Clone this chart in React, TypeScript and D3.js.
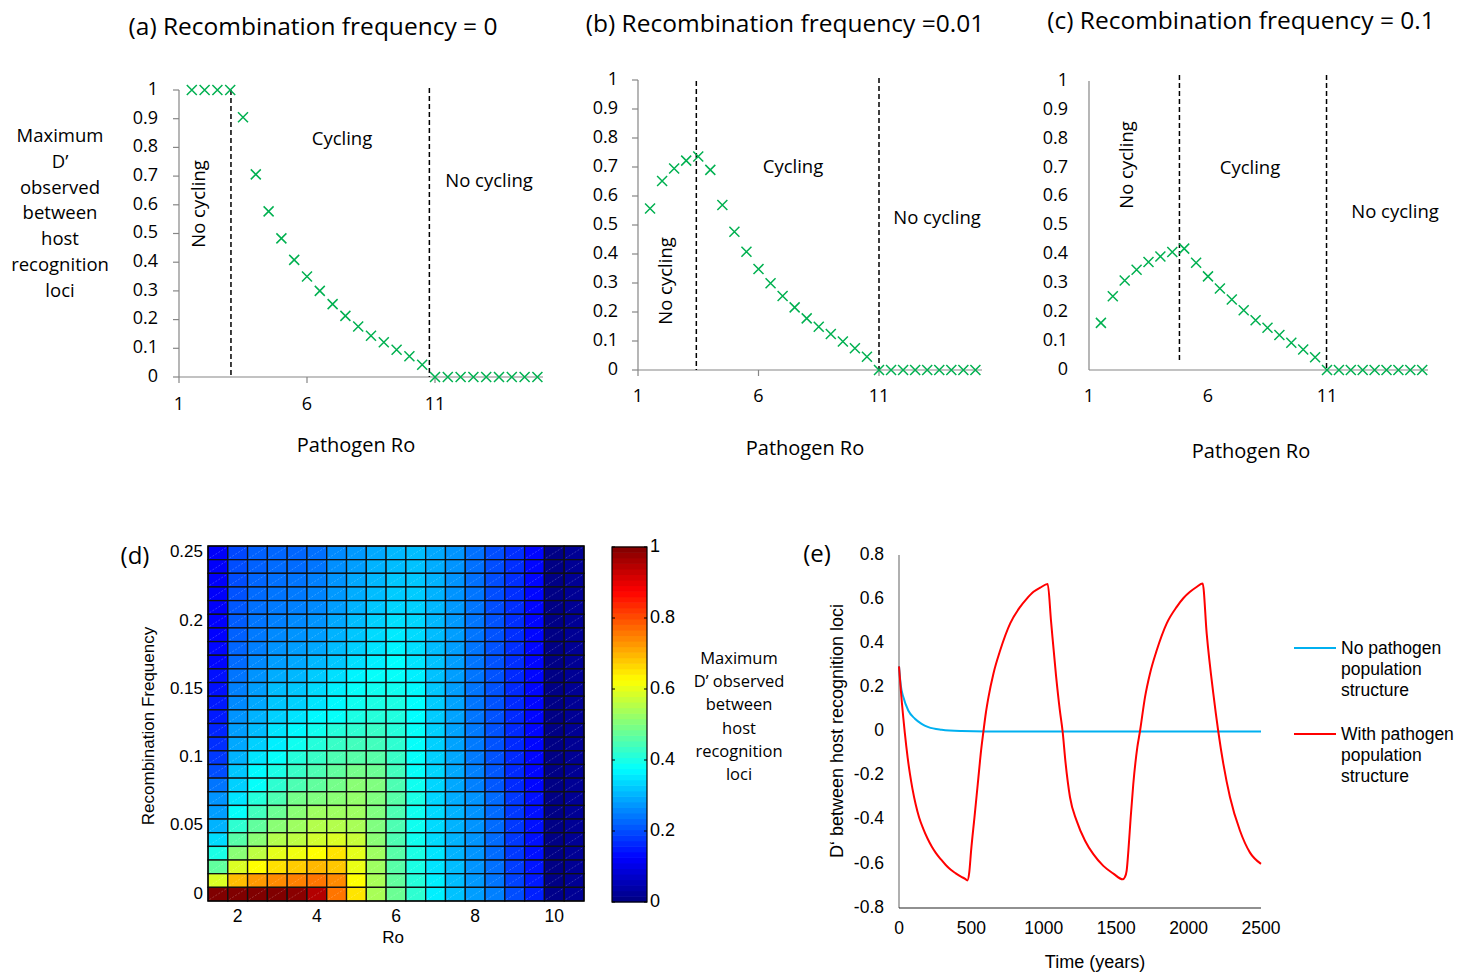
import * as d3 from "d3";

// ---- panels (a)-(c): maximum D' vs pathogen Ro ----
const R0_VALUES = [1.5, 2, 2.5, 3, 3.5, 4, 4.5, 5, 5.5, 6, 6.5, 7, 7.5, 8, 8.5, 9, 9.5, 10, 10.5, 11, 11.5, 12, 12.5, 13, 13.5, 14, 14.5, 15];
const MAX_D_RF_0 = [1, 1, 1, 1, 0.905, 0.706, 0.577, 0.483, 0.408, 0.35, 0.3, 0.254, 0.213, 0.176, 0.144, 0.121, 0.095, 0.072, 0.043, 0, 0, 0, 0, 0, 0, 0, 0, 0];
const MAX_D_RF_001 = [0.557, 0.652, 0.695, 0.722, 0.736, 0.69, 0.569, 0.477, 0.408, 0.348, 0.299, 0.255, 0.216, 0.178, 0.149, 0.124, 0.098, 0.075, 0.046, 0, 0, 0, 0, 0, 0, 0, 0, 0];
const MAX_D_RF_01 = [0.163, 0.255, 0.31, 0.347, 0.374, 0.393, 0.408, 0.42, 0.371, 0.324, 0.282, 0.244, 0.207, 0.172, 0.146, 0.121, 0.094, 0.071, 0.044, 0, 0, 0, 0, 0, 0, 0, 0, 0];
const R0_TICKS = [1, 6, 11];
const MAX_D_TICKS = [0, 0.1, 0.2, 0.3, 0.4, 0.5, 0.6, 0.7, 0.8, 0.9, 1];
const THRESHOLDS_A = [3.03, 10.78];
const THRESHOLDS_B = [3.42, 11];
const THRESHOLDS_C = [4.8, 10.98];

// ---- panel (d): heatmap, rows listed from Rf = 0.25 (top) down to 0 ----
const HEAT_R0 = [1.5, 2, 2.5, 3, 3.5, 4, 4.5, 5, 5.5, 6, 6.5, 7, 7.5, 8, 8.5, 9, 9.5, 10, 10.5];
const HEAT_RF = [0.25, 0.24, 0.23, 0.22, 0.21, 0.2, 0.19, 0.18, 0.17, 0.16, 0.15, 0.14, 0.13, 0.12, 0.11, 0.1, 0.09, 0.08, 0.07, 0.06, 0.05, 0.04, 0.03, 0.02, 0.01, 0];
const HEAT_D = [
  [0.12, 0.195, 0.22, 0.225, 0.225, 0.235, 0.26, 0.275, 0.29, 0.305, 0.31, 0.29, 0.27, 0.235, 0.2, 0.17, 0.13, 0.005, 0.02],
  [0.12, 0.2, 0.22, 0.23, 0.23, 0.24, 0.265, 0.28, 0.3, 0.31, 0.315, 0.295, 0.27, 0.235, 0.2, 0.17, 0.13, 0.005, 0.02],
  [0.12, 0.2, 0.225, 0.235, 0.24, 0.25, 0.27, 0.29, 0.305, 0.32, 0.32, 0.3, 0.27, 0.235, 0.2, 0.17, 0.13, 0.005, 0.02],
  [0.12, 0.205, 0.23, 0.24, 0.245, 0.255, 0.275, 0.295, 0.31, 0.325, 0.325, 0.3, 0.27, 0.24, 0.2, 0.17, 0.13, 0.005, 0.02],
  [0.12, 0.21, 0.235, 0.245, 0.25, 0.26, 0.28, 0.3, 0.32, 0.335, 0.33, 0.305, 0.275, 0.24, 0.2, 0.17, 0.13, 0.005, 0.02],
  [0.125, 0.215, 0.24, 0.25, 0.26, 0.27, 0.29, 0.31, 0.33, 0.345, 0.335, 0.305, 0.275, 0.24, 0.205, 0.17, 0.13, 0.005, 0.02],
  [0.125, 0.22, 0.245, 0.26, 0.27, 0.28, 0.3, 0.32, 0.34, 0.355, 0.34, 0.31, 0.28, 0.24, 0.205, 0.17, 0.13, 0.005, 0.02],
  [0.13, 0.225, 0.25, 0.27, 0.28, 0.29, 0.31, 0.33, 0.35, 0.365, 0.345, 0.31, 0.28, 0.24, 0.205, 0.17, 0.13, 0.005, 0.02],
  [0.13, 0.23, 0.26, 0.28, 0.29, 0.305, 0.32, 0.345, 0.36, 0.375, 0.35, 0.315, 0.28, 0.24, 0.205, 0.17, 0.13, 0.005, 0.02],
  [0.14, 0.24, 0.27, 0.295, 0.305, 0.325, 0.345, 0.365, 0.38, 0.38, 0.36, 0.315, 0.28, 0.24, 0.205, 0.165, 0.13, 0.005, 0.02],
  [0.14, 0.25, 0.28, 0.31, 0.32, 0.34, 0.36, 0.38, 0.39, 0.39, 0.37, 0.32, 0.28, 0.24, 0.205, 0.165, 0.13, 0.005, 0.02],
  [0.15, 0.26, 0.29, 0.32, 0.33, 0.35, 0.37, 0.39, 0.4, 0.4, 0.375, 0.325, 0.285, 0.24, 0.205, 0.165, 0.13, 0.005, 0.02],
  [0.15, 0.27, 0.3, 0.33, 0.35, 0.37, 0.38, 0.4, 0.41, 0.405, 0.375, 0.325, 0.285, 0.24, 0.205, 0.165, 0.13, 0.005, 0.02],
  [0.16, 0.28, 0.31, 0.35, 0.37, 0.39, 0.41, 0.42, 0.43, 0.41, 0.38, 0.33, 0.285, 0.245, 0.205, 0.165, 0.13, 0.005, 0.02],
  [0.17, 0.29, 0.33, 0.36, 0.39, 0.41, 0.43, 0.44, 0.44, 0.42, 0.38, 0.33, 0.285, 0.245, 0.205, 0.165, 0.13, 0.005, 0.02],
  [0.18, 0.3, 0.35, 0.38, 0.41, 0.43, 0.45, 0.46, 0.46, 0.43, 0.38, 0.33, 0.29, 0.245, 0.205, 0.165, 0.13, 0.005, 0.02],
  [0.2, 0.32, 0.37, 0.4, 0.43, 0.45, 0.47, 0.49, 0.48, 0.44, 0.38, 0.335, 0.29, 0.25, 0.21, 0.165, 0.13, 0.005, 0.02],
  [0.24, 0.33, 0.38, 0.42, 0.45, 0.47, 0.49, 0.51, 0.5, 0.45, 0.39, 0.335, 0.29, 0.25, 0.21, 0.165, 0.13, 0.005, 0.02],
  [0.27, 0.35, 0.41, 0.45, 0.49, 0.5, 0.51, 0.52, 0.5, 0.46, 0.4, 0.335, 0.295, 0.27, 0.23, 0.18, 0.14, 0.005, 0.02],
  [0.28, 0.38, 0.44, 0.48, 0.51, 0.53, 0.53, 0.53, 0.5, 0.45, 0.39, 0.34, 0.3, 0.27, 0.23, 0.18, 0.14, 0.005, 0.02],
  [0.3, 0.42, 0.47, 0.51, 0.53, 0.55, 0.55, 0.54, 0.5, 0.45, 0.39, 0.34, 0.3, 0.27, 0.23, 0.18, 0.14, 0.005, 0.02],
  [0.34, 0.46, 0.51, 0.55, 0.56, 0.58, 0.59, 0.57, 0.51, 0.45, 0.39, 0.34, 0.3, 0.27, 0.23, 0.18, 0.14, 0.005, 0.02],
  [0.4, 0.51, 0.56, 0.6, 0.61, 0.625, 0.65, 0.6, 0.53, 0.46, 0.4, 0.35, 0.3, 0.27, 0.23, 0.18, 0.14, 0.005, 0.02],
  [0.47, 0.59, 0.625, 0.655, 0.675, 0.695, 0.68, 0.605, 0.53, 0.46, 0.4, 0.35, 0.31, 0.27, 0.235, 0.185, 0.145, 0.005, 0.02],
  [0.59, 0.69, 0.725, 0.74, 0.75, 0.76, 0.74, 0.625, 0.54, 0.47, 0.41, 0.36, 0.31, 0.275, 0.24, 0.19, 0.15, 0.005, 0.02],
  [1, 1, 1, 1, 0.99, 0.95, 0.76, 0.65, 0.54, 0.48, 0.42, 0.36, 0.315, 0.28, 0.25, 0.2, 0.155, 0.01, 0.02],
];
const HEAT_X_TICKS = [2, 4, 6, 8, 10];
const HEAT_Y_TICKS = [0, 0.05, 0.1, 0.15, 0.2, 0.25];
const CBAR_TICKS = [0, 0.2, 0.4, 0.6, 0.8, 1];

// ---- panel (e): D' through time ----
const TIME_NO_STRUCT = [0, 12, 30, 64, 110, 156, 203, 295, 433, 600, 2500];
const D_NO_STRUCT = [0.295, 0.21, 0.156, 0.095, 0.058, 0.035, 0.02, 0.008, 0.002, 0, 0];
const TIME_STRUCT = [0, 10, 20, 30, 40, 50, 60, 75, 93, 115, 139, 167, 197, 225, 254, 290, 323, 358, 392, 425, 457, 472,
  485, 498, 521, 544, 567, 583, 600, 618, 652, 699, 768, 837, 880, 929, 975, 1027,
  1050, 1085, 1110, 1130, 1150, 1181, 1227, 1285, 1342, 1411, 1480, 1545,
  1560, 1572, 1584, 1600, 1618, 1646, 1664, 1699, 1733, 1780, 1849, 1918, 1965, 2010, 2055, 2097,
  2125, 2171, 2205, 2240, 2286, 2355, 2424, 2500];
const D_STRUCT = [0.295, 0.21, 0.13, 0.06, -0.005, -0.065, -0.12, -0.19, -0.26, -0.33, -0.39, -0.44, -0.485, -0.52, -0.55, -0.58, -0.605, -0.627, -0.643, -0.657, -0.668, -0.675,
  -0.64, -0.54, -0.39, -0.238, -0.086, 0, 0.085, 0.156, 0.262, 0.368, 0.49, 0.565, 0.6, 0.633, 0.652, 0.668,
  0.5, 0.25, 0.1, 0, -0.14, -0.298, -0.405, -0.495, -0.556, -0.609, -0.644, -0.67,
  -0.66, -0.632, -0.541, -0.39, -0.238, -0.071, 0, 0.156, 0.262, 0.368, 0.49, 0.565, 0.605, 0.633, 0.655, 0.671,
  0.444, 0.17, 0, -0.147, -0.298, -0.45, -0.549, -0.6];
const TIME_TICKS = [0, 500, 1000, 1500, 2000, 2500];
const D_TICKS_E = [-0.8, -0.6, -0.4, -0.2, 0, 0.2, 0.4, 0.6, 0.8];

const CAL = "'Open Sans', sans-serif";
const ARIAL = "'Liberation Sans', Arial, sans-serif";
const GREEN = "#00B050";
const AXIS_GREY = "#868686";

function jet(v: number) {
  const c = (x: number) => Math.max(0, Math.min(1, x));
  const r = c(Math.min(4 * v - 1.5, -4 * v + 4.5));
  const g = c(Math.min(4 * v - 0.5, -4 * v + 3.5));
  const b = c(Math.min(4 * v + 0.5, -4 * v + 2.5));
  return d3.rgb(r * 255, g * 255, b * 255).toString();
}

type PanelProps = {
  values: number[];
  thresholds: number[];
  x1: number; x11: number; xEnd: number;
  yTop: number; yBottom: number;
  dashTops: number[]; dashBottoms: number[];
  ticks: boolean;
  labelRight: number; xLabelY: number;
  title: string; titleX: number; titleY: number;
  xTitleX: number; xTitleY: number;
  cycling: [number, number]; noCycling: [number, number]; noCyclingV: [number, number];
};

function ScatterPanel(p: PanelProps) {
  const x = d3.scaleLinear().domain([1, 11]).range([p.x1, p.x11]);
  const y = d3.scaleLinear().domain([0, 1]).range([p.yBottom, p.yTop]);
  const s = 5;
  return (
    <g>
      <text x={p.titleX} y={p.titleY} textAnchor="middle" dominantBaseline="middle" fontFamily={CAL} fontSize={24.5}>{p.title}</text>
      <line x1={p.x1} x2={p.x1} y1={p.yTop} y2={p.yBottom} stroke={AXIS_GREY} strokeWidth={1.2} />
      <line x1={p.x1} x2={p.xEnd} y1={p.yBottom} y2={p.yBottom} stroke={AXIS_GREY} strokeWidth={1.2} />
      {MAX_D_TICKS.map(t => (
        <g key={t}>
          {p.ticks && <line x1={p.x1 - 6} x2={p.x1} y1={y(t)} y2={y(t)} stroke={AXIS_GREY} strokeWidth={1.2} />}
          <text x={p.labelRight} y={y(t)} textAnchor="end" dominantBaseline="middle" fontFamily={CAL} fontSize={18}>{t}</text>
        </g>
      ))}
      {R0_TICKS.map(t => (
        <g key={t}>
          {p.ticks && <line x1={x(t)} x2={x(t)} y1={p.yBottom} y2={p.yBottom + 6} stroke={AXIS_GREY} strokeWidth={1.2} />}
          <text x={x(t)} y={p.xLabelY} textAnchor="middle" dominantBaseline="middle" fontFamily={CAL} fontSize={18}>{t}</text>
        </g>
      ))}
      {p.thresholds.map((t, i) => (
        <line key={i} x1={x(t)} x2={x(t)} y1={p.dashTops[i]} y2={p.dashBottoms[i]} stroke="#000" strokeWidth={1.5} strokeDasharray="5,3" />
      ))}
      <g stroke={GREEN} strokeWidth={1.5}>
        {R0_VALUES.map((r, i) => (
          <path key={i} d={`M${x(r) - s},${y(p.values[i]) - s}L${x(r) + s},${y(p.values[i]) + s}M${x(r) - s},${y(p.values[i]) + s}L${x(r) + s},${y(p.values[i]) - s}`} />
        ))}
      </g>
      <text x={p.cycling[0]} y={p.cycling[1]} textAnchor="middle" dominantBaseline="middle" fontFamily={CAL} fontSize={18.5}>Cycling</text>
      <text x={p.noCycling[0]} y={p.noCycling[1]} textAnchor="middle" dominantBaseline="middle" fontFamily={CAL} fontSize={18.5}>No cycling</text>
      <text transform={`translate(${p.noCyclingV[0]},${p.noCyclingV[1]}) rotate(-90)`} textAnchor="middle" dominantBaseline="middle" fontFamily={CAL} fontSize={18.5}>No cycling</text>
      <text x={p.xTitleX} y={p.xTitleY} textAnchor="middle" dominantBaseline="middle" fontFamily={CAL} fontSize={20}>Pathogen Ro</text>
    </g>
  );
}

function Heatmap() {
  const x = d3.scaleLinear().domain([1.25, 10.75]).range([208, 584]);
  const y = d3.scaleLinear().domain([-0.005, 0.255]).range([901, 546]);
  const w = x(1.75) - x(1.25);
  const h = y(0) - y(0.01);
  const cb = d3.scaleLinear().domain([0, 1]).range([902, 547]);
  const steps = d3.range(64);
  return (
    <g>
      <text x={135} y={558} textAnchor="middle" dominantBaseline="middle" fontFamily={CAL} fontSize={24}>(d)</text>
      {HEAT_RF.map((rf, ri) => HEAT_R0.map((r0, ci) => {
        const cx = x(r0 - 0.25), cy = y(rf + 0.005);
        return (
          <g key={`${ri}-${ci}`}>
            <rect x={cx} y={cy} width={w} height={h} fill={jet(HEAT_D[ri][ci])} stroke="#111" strokeWidth={1.3} />
            <line x1={cx + 1.5} y1={cy + h - 1.5} x2={cx + w - 1.5} y2={cy + 1.5} stroke="#fff" strokeOpacity={0.35} strokeWidth={0.6} strokeDasharray="2,1.5" />
          </g>
        );
      }))}
      <rect x={208} y={546} width={376} height={355} fill="none" stroke="#000" strokeWidth={1.2} />
      {HEAT_X_TICKS.map(t => (
        <text key={t} x={x(t)} y={917} textAnchor="middle" dominantBaseline="middle" fontFamily={ARIAL} fontSize={17.5}>{t}</text>
      ))}
      {HEAT_Y_TICKS.map(t => (
        <text key={t} x={203} y={y(t)} textAnchor="end" dominantBaseline="middle" fontFamily={ARIAL} fontSize={17}>{t}</text>
      ))}
      <text x={393} y={939} textAnchor="middle" dominantBaseline="middle" fontFamily={ARIAL} fontSize={17}>Ro</text>
      <text transform="translate(150,726) rotate(-90)" textAnchor="middle" dominantBaseline="middle" fontFamily={ARIAL} fontSize={17}>Recombination Frequency</text>
      {steps.map(i => (
        <rect key={i} x={612} y={cb((i + 1) / 64) - 0.3} width={35} height={cb(0) - cb(1 / 64) + 0.6} fill={jet((i + 0.5) / 64)} />
      ))}
      <rect x={612} y={547} width={35} height={355} fill="none" stroke="#000" strokeWidth={1.2} />
      {CBAR_TICKS.map(t => (
        <g key={t}>
          <line x1={612} x2={615} y1={cb(t)} y2={cb(t)} stroke="#000" />
          <line x1={644} x2={647} y1={cb(t)} y2={cb(t)} stroke="#000" />
          <text x={650} y={cb(t)} dominantBaseline="middle" fontFamily={ARIAL} fontSize={18}>{t}</text>
        </g>
      ))}
      <text textAnchor="middle" fontFamily={CAL} fontSize={16.5}>
        {["Maximum", "D\u2019 observed", "between", "host", "recognition", "loci"].map((s, i) => (
          <tspan key={i} x={739} y={664 + i * 23.2}>{s}</tspan>
        ))}
      </text>
    </g>
  );
}

function TimePanel() {
  const x = d3.scaleLinear().domain([0, 2500]).range([899, 1261]);
  const y = d3.scaleLinear().domain([-0.8, 0.8]).range([908, 555]);
  const mk = (ts: number[], ds: number[]) =>
    d3.line<number>().x(t => x(t)).y((_, i) => y(ds[i])).curve(d3.curveMonotoneX)(ts) || "";
  return (
    <g>
      <text x={817} y={556} textAnchor="middle" dominantBaseline="middle" fontFamily={CAL} fontSize={24}>(e)</text>
      <line x1={899} x2={899} y1={555} y2={908} stroke={AXIS_GREY} strokeWidth={1.3} />
      <line x1={899} x2={1261} y1={908} y2={908} stroke="#222" strokeWidth={1.2} />
      {D_TICKS_E.map(t => (
        <text key={t} x={884} y={y(t)} textAnchor="end" dominantBaseline="middle" fontFamily={ARIAL} fontSize={17.5}>{String(t)}</text>
      ))}
      {TIME_TICKS.map(t => (
        <text key={t} x={x(t)} y={929} textAnchor="middle" dominantBaseline="middle" fontFamily={ARIAL} fontSize={17.5}>{t}</text>
      ))}
      <text x={1095} y={963} textAnchor="middle" dominantBaseline="middle" fontFamily={ARIAL} fontSize={18}>Time (years)</text>
      <text transform="translate(838,731) rotate(-90)" textAnchor="middle" dominantBaseline="middle" fontFamily={ARIAL} fontSize={18}>D‘ between host recognition loci</text>
      <path d={mk(TIME_NO_STRUCT, D_NO_STRUCT)} fill="none" stroke="#00B0F0" strokeWidth={2} />
      <path d={mk(TIME_STRUCT, D_STRUCT)} fill="none" stroke="#FF0000" strokeWidth={2} />
      <line x1={1294} x2={1336} y1={648} y2={648} stroke="#00B0F0" strokeWidth={2} />
      <line x1={1294} x2={1336} y1={734} y2={734} stroke="#FF0000" strokeWidth={2} />
      <text fontFamily={ARIAL} fontSize={17.5}>
        {["No pathogen", "population", "structure"].map((s, i) => (
          <tspan key={i} x={1341} y={654 + i * 21}>{s}</tspan>
        ))}
      </text>
      <text fontFamily={ARIAL} fontSize={17.5}>
        {["With pathogen", "population", "structure"].map((s, i) => (
          <tspan key={i} x={1341} y={740 + i * 21}>{s}</tspan>
        ))}
      </text>
    </g>
  );
}

export default function App() {
  return (
    <svg width={1475} height={972} style={{ position: "absolute", left: 0, top: 0, background: "#fff" }}>
      <rect width={1475} height={972} fill="#fff" />
      <text textAnchor="middle" fontFamily={CAL} fontSize={18.5}>
        {["Maximum", "D\u2019", "observed", "between", "host", "recognition", "loci"].map((s, i) => (
          <tspan key={i} x={60} y={142 + i * 25.8}>{s}</tspan>
        ))}
      </text>
      <ScatterPanel values={MAX_D_RF_0} thresholds={THRESHOLDS_A} x1={179} x11={435} xEnd={543} yTop={90} yBottom={377}
        dashTops={[90, 88]} dashBottoms={[377, 377]} ticks={true} labelRight={158} xLabelY={405}
        title="(a) Recombination frequency = 0" titleX={313} titleY={28} xTitleX={356} xTitleY={447}
        cycling={[342, 140]} noCycling={[489, 182]} noCyclingV={[200, 204]} />
      <ScatterPanel values={MAX_D_RF_001} thresholds={THRESHOLDS_B} x1={638} x11={879} xEnd={982} yTop={80} yBottom={370}
        dashTops={[81, 78]} dashBottoms={[370, 370]} ticks={true} labelRight={618} xLabelY={397}
        title="(b) Recombination frequency =0.01" titleX={785} titleY={25} xTitleX={805} xTitleY={450}
        cycling={[793, 168]} noCycling={[937, 219]} noCyclingV={[667, 281]} />
      <ScatterPanel values={MAX_D_RF_01} thresholds={THRESHOLDS_C} x1={1089} x11={1327} xEnd={1428} yTop={81} yBottom={370}
        dashTops={[75, 75]} dashBottoms={[363, 370]} ticks={false} labelRight={1068} xLabelY={397}
        title="(c) Recombination frequency = 0.1" titleX={1241} titleY={22} xTitleX={1251} xTitleY={453}
        cycling={[1250, 169]} noCycling={[1395, 213]} noCyclingV={[1128, 165]} />
      <Heatmap />
      <TimePanel />
    </svg>
  );
}
